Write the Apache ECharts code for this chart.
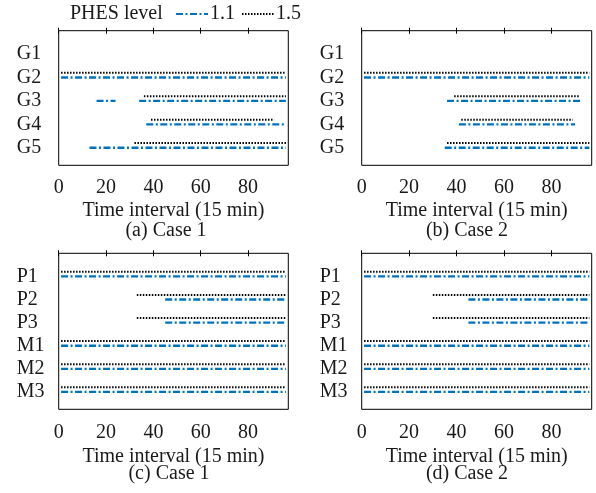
<!DOCTYPE html>
<html>
<head>
<meta charset="utf-8">
<script src="https://cdn.jsdelivr.net/npm/echarts@6/dist/echarts.min.js"></script>
<style>
html, body { margin: 0; padding: 0; background: #fff; }
#chart { width: 596px; height: 493px; }
</style>
</head>
<body>
<div id="chart"></div>
<script>
var genNames = ['G1', 'G2', 'G3', 'G4', 'G5'];
var loadNames = ['P1', 'P2', 'P3', 'M1', 'M2', 'M3'];
var xTicks = [0, 20, 40, 60, 80];
var levelNames = ['1.1', '1.5'];
var captions = ['(a) Case 1', '(b) Case 2', '(c) Case 1', '(d) Case 2'];

// on-intervals [start, end] for each row, one list per PHES level
var case1Gen11 = [[], [[1, 96]], [[16, 24], [34, 96]], [[37, 96]], [[13, 96]]];
var case1Gen15 = [[], [[1, 96]], [[36, 96]], [[39, 91]], [[32, 96]]];
var case2Gen11 = [[], [[1, 96]], [[36, 93]], [[41, 90]], [[35, 96]]];
var case2Gen15 = [[], [[1, 96]], [[39, 92]], [[42, 89]], [[36, 96]]];
var case1Load11 = [[[1, 96]], [[45, 96]], [[45, 96]], [[1, 96]], [[1, 96]], [[1, 96]]];
var case1Load15 = [[[1, 96]], [[33, 96]], [[33, 96]], [[1, 96]], [[1, 96]], [[1, 96]]];
var case2Load11 = [[[1, 96]], [[45, 96]], [[45, 96]], [[1, 96]], [[1, 96]], [[1, 96]]];
var case2Load15 = [[[1, 96]], [[30, 96]], [[30, 96]], [[1, 96]], [[1, 96]], [[1, 96]]];

var font = "'Liberation Serif', 'Times New Roman', serif";
var textColor = '#1a1a1a';

var grids = [
    {left: 58.7, top: 30.7, width: 229.6, height: 134.6},
    {left: 361.7, top: 30.7, width: 230, height: 134.6},
    {left: 58.7, top: 253.3, width: 229.6, height: 156},
    {left: 361.7, top: 253.3, width: 230, height: 156}
];
grids.forEach(function (g) {
    g.show = true;
    g.borderColor = '#000';
    g.borderWidth = 1;
    g.backgroundColor = 'transparent';
});

var panelRows = [genNames, genNames, loadNames, loadNames];

var xAxes = [];
var yAxes = [];
grids.forEach(function (g, i) {
    var lower = i > 1;
    xAxes.push({
        type: 'value', gridIndex: i, position: 'bottom', min: 0, max: 97,
        name: 'Time interval (15 min)', nameLocation: 'middle', nameGap: lower ? 37 : 35.5,
        nameTextStyle: {fontFamily: font, fontSize: 20, color: textColor},
        axisLine: {show: false},
        axisTick: {show: true, inside: true, length: 3, customValues: xTicks, lineStyle: {color: '#000'}},
        axisLabel: {customValues: xTicks, fontFamily: font, fontSize: 20, color: textColor, margin: lower ? 13.5 : 12},
        splitLine: {show: false}
    });
    xAxes.push({
        type: 'value', gridIndex: i, position: 'top', min: 0, max: 97,
        axisLine: {show: false},
        axisTick: {show: true, inside: true, length: 3, customValues: xTicks, lineStyle: {color: '#000'}},
        axisLabel: {show: false},
        splitLine: {show: false}
    });
    var names = panelRows[i];
    yAxes.push({
        type: 'value', gridIndex: i, inverse: true, min: 0, max: names.length + 0.75,
        axisLine: {show: false},
        axisTick: {show: false},
        splitLine: {show: false},
        axisLabel: {
            customValues: names.map(function (n, k) { return k + 1; }),
            formatter: function (v) { return names[v - 1]; },
            align: 'left', margin: 42,
            fontFamily: font, fontSize: 20, color: textColor
        }
    });
});

var styles = {
    '1.1': {color: '#0072BD', width: 2.3, type: [7, 2.5, 2, 2.5]},
    '1.5': {color: '#000', width: 2, type: [1.5, 1.5]}
};

var series = [];
function addRows(panel, rows, level, offset) {
    rows.forEach(function (segs, k) {
        segs.forEach(function (s) {
            series.push({
                type: 'line', name: level,
                xAxisIndex: panel * 2, yAxisIndex: panel,
                data: [[s[0], k + 1 + offset], [s[1], k + 1 + offset]],
                symbol: 'none', silent: true,
                color: styles[level].color,
                lineStyle: styles[level]
            });
        });
    });
}
addRows(0, case1Gen11, '1.1', 0);
addRows(0, case1Gen15, '1.5', -0.2);
addRows(1, case2Gen11, '1.1', 0);
addRows(1, case2Gen15, '1.5', -0.2);
addRows(2, case1Load11, '1.1', 0);
addRows(2, case1Load15, '1.5', -0.2);
addRows(3, case2Load11, '1.1', 0);
addRows(3, case2Load15, '1.5', -0.2);

var captionX = [166, 467, 169, 467];
var captionY = [230.5, 230.5, 474, 474];
var graphics = [{
    type: 'text', left: 70, top: 4,
    style: {text: 'PHES level', font: '20px ' + font, fill: textColor}
}];
captions.forEach(function (c, i) {
    graphics.push({
        type: 'text', x: captionX[i], y: captionY[i],
        style: {text: c, font: '20px ' + font, fill: textColor, align: 'center', verticalAlign: 'middle'}
    });
});

var option = {
    animation: false,
    backgroundColor: '#fff',
    legend: {
        data: levelNames, left: 175, top: 4, padding: 0,
        itemWidth: 32, itemHeight: 14, itemGap: 6,
        itemStyle: {opacity: 0},
        textStyle: {fontFamily: font, fontSize: 20, color: textColor, padding: [0, 0, 0, -3]}
    },
    grid: grids,
    xAxis: xAxes,
    yAxis: yAxes,
    series: series,
    graphic: graphics
};

var chart = echarts.init(document.getElementById('chart'));
chart.setOption(option);
</script>
</body>
</html>
